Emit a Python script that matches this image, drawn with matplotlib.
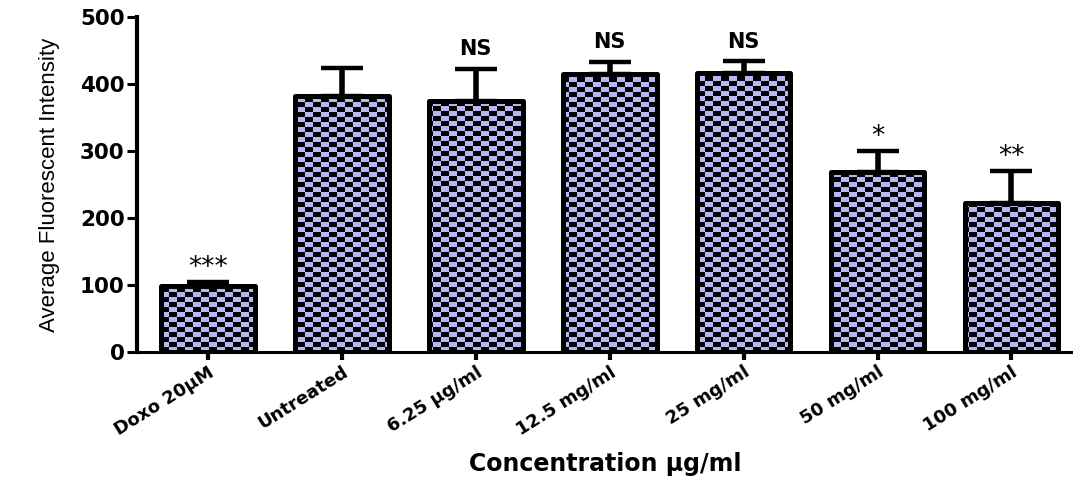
import numpy as np
import matplotlib
matplotlib.use("Agg")
import matplotlib.pyplot as plt

# group labels, means, upper error and significance marks
groups = ["Doxo 20μM", "Untreated", "6.25 μg/ml", "12.5 mg/ml",
          "25 mg/ml", "50 mg/ml", "100 mg/ml"]
means = [98, 382, 375, 415, 417, 268, 222]
errs = [6, 42, 48, 18, 17, 32, 48]
marks = ["***", "", "NS", "NS", "NS", "*", "**"]

plt.rcParams["font.family"] = ["DejaVu Sans"]

fig = plt.figure(figsize=(10.73, 4.88), dpi=100)
ax = fig.add_axes([0.1277, 0.2787, 0.8723, 0.6863])

x = np.arange(len(groups))
xlo, xhi = -0.53, 6.46

bars = ax.bar(x, means, width=0.70, color="none", edgecolor="black",
              linewidth=3.6, zorder=3, joinstyle="round")
ax.errorbar(x, means, yerr=[np.zeros(len(errs)), errs], fmt="none",
            ecolor="black", elinewidth=4, capsize=15, capthick=3.2, zorder=2)

# checkerboard fill, 8x5 px cells, clipped into each bar
fw, fh = 936, 335
cols, rows = fw // 8, fh // 5
ii, jj = np.indices((rows, cols))
check = ((ii + jj) % 2).astype(bool)
img = np.zeros((rows, cols, 3))
img[~check] = np.array([182, 182, 242]) / 255.0
img[check] = 0.0
for b in bars:
    im = ax.imshow(img, extent=(xlo, xhi, 0, 500), aspect="auto",
                   interpolation="nearest", zorder=2.5)
    im.set_clip_path(b)
ax.set_xlim(xlo, xhi)
ax.set_ylim(0, 500)

for xi, m, e, s in zip(x, means, errs, marks):
    if not s:
        continue
    if s == "NS":
        ax.annotate(s, (xi, m + e), xytext=(0, 7), textcoords="offset points",
                    ha="center", va="bottom", fontsize=15, fontweight="bold")
    else:
        ax.annotate(s, (xi, m + e), xytext=(0, 1), textcoords="offset points",
                    ha="center", va="bottom", fontsize=19)

for side in ["top", "right"]:
    ax.spines[side].set_visible(False)
ax.spines["left"].set_linewidth(3.0)
ax.spines["bottom"].set_linewidth(2.2)

ax.set_yticks([0, 100, 200, 300, 400, 500])
ax.tick_params(axis="y", length=7, width=2.2, labelsize=15.5, pad=2)
ax.tick_params(axis="x", length=6, width=3.0, labelsize=13, pad=2)
for t in ax.get_yticklabels():
    t.set_fontweight("bold")
ax.set_xticks(x)
ax.set_xticklabels(groups, rotation=32, ha="right", va="top",
                   rotation_mode="anchor", fontweight="bold")

ax.set_ylabel("Average Fluorescent Intensity", fontsize=16,
              family=["Liberation Sans"], labelpad=14)
ax.set_xlabel("Concentration μg/ml", fontsize=17, fontweight="bold")
ax.xaxis.set_label_coords(0.5, -0.30)

fig.savefig("out.png", dpi=100)
